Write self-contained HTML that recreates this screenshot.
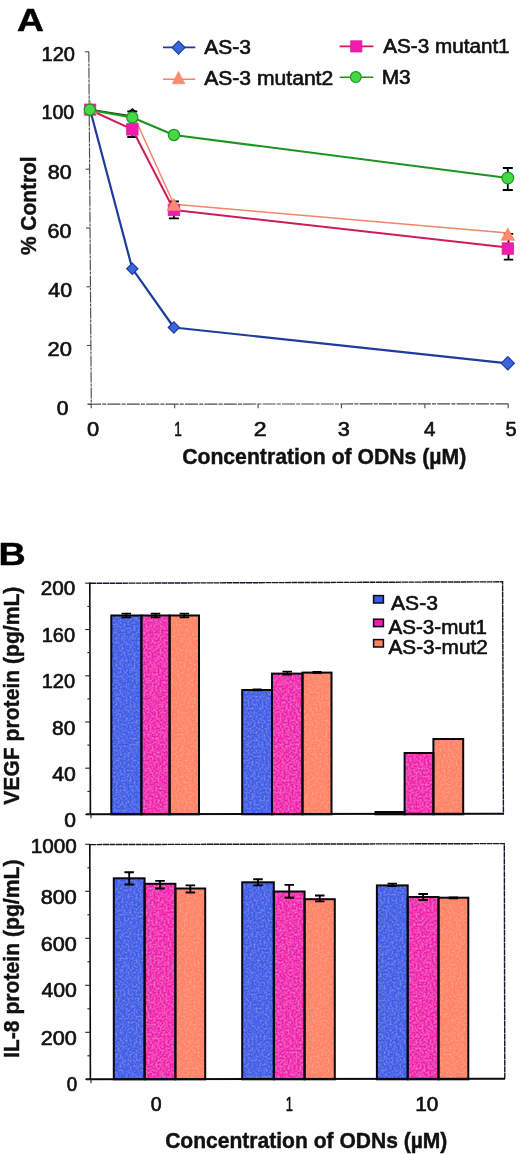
<!DOCTYPE html>
<html lang="en"><head><meta charset="utf-8"><title>Figure</title>
<style>html,body{margin:0;padding:0;background:#fff}svg{display:block;filter:blur(0.4px)}text{font-family:"Liberation Sans",Arial,Helvetica,sans-serif}</style></head><body>
<svg width="520" height="1154" viewBox="0 0 520 1154">
<rect width="520" height="1154" fill="#fff"/>
<defs><filter id="n" x="0" y="0" width="100%" height="100%"><feTurbulence type="fractalNoise" baseFrequency="0.5" numOctaves="2" seed="4" result="t"/><feColorMatrix in="t" type="matrix" values="0 0 0 0 1  0 0 0 0 1  0 0 0 0 1  0.4 0 0 0 -0.16" result="w"/><feComposite in="w" in2="SourceGraphic" operator="in" result="wi"/><feMerge><feMergeNode in="SourceGraphic"/><feMergeNode in="wi"/></feMerge></filter></defs>
<text transform="translate(17.07,31.00) scale(1.2037,1)" font-size="31" font-weight="bold" fill="#000" stroke="#000" stroke-width="0.45">A</text>
<line x1="88.8" y1="51.5" x2="91.3" y2="404.5" stroke="#4a4a4a" stroke-width="1.15" stroke-dasharray="11 1 3 1"/>
<line x1="88" y1="404.2" x2="509" y2="403.8" stroke="#4a4a4a" stroke-width="1.15" stroke-dasharray="13 1.2 4 1.2"/>
<line x1="87.3" y1="404.2" x2="91.3" y2="404.2" stroke="#4a4a4a" stroke-width="1.1"/>
<line x1="86.9" y1="345.5" x2="90.9" y2="345.5" stroke="#4a4a4a" stroke-width="1.1"/>
<line x1="86.5" y1="286.8" x2="90.5" y2="286.8" stroke="#4a4a4a" stroke-width="1.1"/>
<line x1="86.0" y1="228.0" x2="90.0" y2="228.0" stroke="#4a4a4a" stroke-width="1.1"/>
<line x1="85.6" y1="169.2" x2="89.6" y2="169.2" stroke="#4a4a4a" stroke-width="1.1"/>
<line x1="85.2" y1="110.5" x2="89.2" y2="110.5" stroke="#4a4a4a" stroke-width="1.1"/>
<line x1="84.8" y1="51.8" x2="88.8" y2="51.8" stroke="#4a4a4a" stroke-width="1.1"/>
<line x1="91.2" y1="404" x2="91.2" y2="408.3" stroke="#4a4a4a" stroke-width="1.1"/>
<line x1="174.7" y1="404" x2="174.7" y2="408.3" stroke="#4a4a4a" stroke-width="1.1"/>
<line x1="258.1" y1="404" x2="258.1" y2="408.3" stroke="#4a4a4a" stroke-width="1.1"/>
<line x1="341.5" y1="404" x2="341.5" y2="408.3" stroke="#4a4a4a" stroke-width="1.1"/>
<line x1="424.9" y1="404" x2="424.9" y2="408.3" stroke="#4a4a4a" stroke-width="1.1"/>
<line x1="508.2" y1="404" x2="508.2" y2="408.3" stroke="#4a4a4a" stroke-width="1.1"/>
<text transform="translate(41.50,61.40) scale(0.9835,1)" font-size="20.4" fill="#111" stroke="#111" stroke-width="0.65">120</text>
<text transform="translate(41.53,118.60) scale(0.9583,1)" font-size="20.4" fill="#111" stroke="#111" stroke-width="0.65">100</text>
<text transform="translate(47.73,179.20) scale(1.0518,1)" font-size="20.4" fill="#111" stroke="#111" stroke-width="0.65">80</text>
<text transform="translate(47.62,238.20) scale(1.0569,1)" font-size="20.4" fill="#111" stroke="#111" stroke-width="0.65">60</text>
<text transform="translate(48.27,297.30) scale(1.0454,1)" font-size="20.4" fill="#111" stroke="#111" stroke-width="0.65">40</text>
<text transform="translate(47.60,355.90) scale(1.0760,1)" font-size="20.4" fill="#111" stroke="#111" stroke-width="0.65">20</text>
<text transform="translate(56.86,414.80) scale(1.0315,1)" font-size="20.4" fill="#111" stroke="#111" stroke-width="0.65">0</text>
<text transform="translate(87.12,436.00) scale(1.0723,1)" font-size="20.4" fill="#111" stroke="#111" stroke-width="0.65">0</text>
<text transform="translate(174.28,436.00) scale(0.6649,1)" font-size="20.4" fill="#111" stroke="#111" stroke-width="0.65">1</text>
<text transform="translate(253.85,436.00) scale(1.1312,1)" font-size="20.4" fill="#111" stroke="#111" stroke-width="0.65">2</text>
<text transform="translate(337.63,436.00) scale(1.0630,1)" font-size="20.4" fill="#111" stroke="#111" stroke-width="0.65">3</text>
<text transform="translate(423.89,436.00) scale(1.0095,1)" font-size="20.4" fill="#111" stroke="#111" stroke-width="0.65">4</text>
<text transform="translate(505.50,436.00) scale(0.9804,1)" font-size="20.4" fill="#111" stroke="#111" stroke-width="0.65">5</text>
<text transform="translate(182.15,464.20) scale(0.9553,1)" font-size="22.2" font-weight="bold" fill="#111" stroke="#111" stroke-width="0.45">Concentration of ODNs (µM)</text>
<text transform="translate(36.20,255.12) rotate(-90) scale(0.9689,1)" font-size="21.6" font-weight="bold" fill="#111" stroke="#111" stroke-width="0.4">% Control</text>
<path d="M127.3 111.3H137.3M127.3 137.0H137.3M132.3 111.3V137.0" stroke="#000" stroke-width="1.8" fill="none"/>
<path d="M127.6 112.3L132.4 107.9L137.2 112.3Z" fill="#000"/>
<path d="M168.9 201.5H178.9M168.9 218.3H178.9M173.9 201.5V218.3" stroke="#000" stroke-width="1.8" fill="none"/>
<path d="M502.8 168.0H512.8M502.8 190.0H512.8M507.8 168.0V190.0" stroke="#000" stroke-width="1.8" fill="none"/>
<path d="M503.8 233.8H513.2M503.8 259.6H513.2M508.5 233.8V259.6" stroke="#000" stroke-width="1.8" fill="none"/>
<polyline fill="none" stroke="#1d3c9c" stroke-width="2.2" stroke-linejoin="round" points="90.2,110.0 132.3,268.7 173.9,327.5 507.8,363.3"/>
<polyline fill="none" stroke="#cf1a5c" stroke-width="2.0" stroke-linejoin="round" points="90.2,110.0 132.3,129.3 173.9,210.0 507.8,247.6"/>
<polyline fill="none" stroke="#f28468" stroke-width="1.5" stroke-linejoin="round" points="133,114 173.9,204.3 507.8,233"/>
<line x1="92" y1="109.6" x2="130" y2="115.6" stroke="#1d3d12" stroke-width="1.3"/>
<polyline fill="none" stroke="#1c9420" stroke-width="2.1" stroke-linejoin="round" points="90.2,110.0 132.3,117.5 173.9,135.0 507.8,178.0"/>
<path d="M84.6 110.0L90.2 104.4L95.8 110.0L90.2 115.6Z" fill="#3b66dc" stroke="#1d3c9c" stroke-width="1.2"/>
<path d="M126.7 268.7L132.3 263.1L137.9 268.7L132.3 274.3Z" fill="#3b66dc" stroke="#1d3c9c" stroke-width="1.2"/>
<path d="M168.3 327.5L173.9 321.9L179.5 327.5L173.9 333.1Z" fill="#3b66dc" stroke="#1d3c9c" stroke-width="1.2"/>
<path d="M501.2 363.3L507.8 356.7L514.4 363.3L507.8 369.9Z" fill="#3b66dc" stroke="#1d3c9c" stroke-width="1.2"/>
<rect x="84.6" y="104.0" width="11.2" height="11.2" fill="#f01cb0" stroke="#e0209a" stroke-width="0.8"/>
<rect x="126.6" y="123.6" width="11.5" height="11.5" fill="#f01cb0" stroke="#e0209a" stroke-width="0.8"/>
<rect x="168.2" y="204.2" width="11.5" height="11.5" fill="#f01cb0" stroke="#e0209a" stroke-width="0.8"/>
<rect x="502.1" y="242.8" width="11.5" height="11.5" fill="#f01cb0" stroke="#e0209a" stroke-width="0.8"/>
<path d="M90.2 101.3L97.0 113.5H83.4Z" fill="#ff8a70" stroke="#f28468" stroke-width="0.6"/>
<path d="M173.9 198.2L180.7 210.4H167.1Z" fill="#ff8a70" stroke="#f28468" stroke-width="0.6"/>
<path d="M507.8 228.1L514.6 240.3H501.0Z" fill="#ff8a70" stroke="#f28468" stroke-width="0.6"/>
<circle cx="89.8" cy="109.8" r="5.6" fill="#46d846" stroke="#1c9420" stroke-width="1.2"/>
<circle cx="132.3" cy="117.5" r="5.6" fill="#46d846" stroke="#1c9420" stroke-width="1.2"/>
<circle cx="173.9" cy="135.0" r="5.6" fill="#46d846" stroke="#1c9420" stroke-width="1.2"/>
<circle cx="507.8" cy="178.0" r="5.9" fill="#46d846" stroke="#1c9420" stroke-width="1.2"/>
<line x1="163" y1="47.4" x2="195.3" y2="47.4" stroke="#1d3c9c" stroke-width="1.6"/>
<path d="M172.0 47.6L178.5 41.1L185.0 47.6L178.5 54.1Z" fill="#3b66dc" stroke="#1d3c9c" stroke-width="1.2"/>
<text transform="translate(204.20,54.00) scale(1.0004,1)" font-size="21" fill="#111" stroke="#111" stroke-width="0.65">AS-3</text>
<line x1="163" y1="79.2" x2="195.3" y2="79.2" stroke="#f28468" stroke-width="1.6"/>
<path d="M178.5 71.4L184.9 83.8H172.1Z" fill="#ff8a70" stroke="#f28468" stroke-width="0.6"/>
<text transform="translate(204.20,84.80) scale(1.0050,1)" font-size="21" fill="#111" stroke="#111" stroke-width="0.65">AS-3 mutant2</text>
<line x1="339.6" y1="46.4" x2="373.4" y2="46.4" stroke="#cf1a5c" stroke-width="1.6"/>
<rect x="350.7" y="40.8" width="11.2" height="11.2" fill="#f01cb0" stroke="#e0209a" stroke-width="0.8"/>
<text transform="translate(383.30,53.20) scale(0.9838,1)" font-size="21" fill="#111" stroke="#111" stroke-width="0.65">AS-3 mutant1</text>
<line x1="339.6" y1="77.2" x2="373.4" y2="77.2" stroke="#1c9420" stroke-width="1.6"/>
<circle cx="355.8" cy="77.1" r="5.4" fill="#46d846" stroke="#1c9420" stroke-width="1.2"/>
<text transform="translate(381.63,84.00) scale(0.9936,1)" font-size="21" fill="#111" stroke="#111" stroke-width="0.65">M3</text>
<text transform="translate(-1.45,565.00) scale(1.2163,1)" font-size="31" font-weight="bold" fill="#000" stroke="#000" stroke-width="0.45">B</text>
<path d="M90 583.3L502.6 581.8L503.4 814.3" fill="none" stroke="#15152c" stroke-width="1.4" stroke-dasharray="6 0.5"/>
<rect x="111.3" y="615.5" width="30.1" height="198.8" fill="#3a5ce6" filter="url(#n)"/>
<rect x="141.4" y="615.5" width="28.2" height="198.8" fill="#f01cb0" filter="url(#n)"/>
<rect x="169.6" y="615.5" width="29.4" height="198.8" fill="#ff8262" filter="url(#n)"/>
<rect x="111.3" y="615.5" width="30.1" height="198.8" fill="none" stroke="#08080f" stroke-width="2"/>
<rect x="141.4" y="615.5" width="28.2" height="198.8" fill="none" stroke="#08080f" stroke-width="2"/>
<rect x="169.6" y="615.5" width="29.4" height="198.8" fill="none" stroke="#08080f" stroke-width="2"/>
<rect x="242.2" y="690.0" width="29.8" height="124.3" fill="#3a5ce6" filter="url(#n)"/>
<rect x="272.0" y="673.6" width="30.5" height="140.7" fill="#f01cb0" filter="url(#n)"/>
<rect x="302.5" y="672.6" width="29.0" height="141.7" fill="#ff8262" filter="url(#n)"/>
<rect x="242.2" y="690.0" width="29.8" height="124.3" fill="none" stroke="#08080f" stroke-width="2"/>
<rect x="272.0" y="673.6" width="30.5" height="140.7" fill="none" stroke="#08080f" stroke-width="2"/>
<rect x="302.5" y="672.6" width="29.0" height="141.7" fill="none" stroke="#08080f" stroke-width="2"/>
<rect x="375.5" y="812.0" width="29.1" height="2.3" fill="#3a5ce6" filter="url(#n)"/>
<rect x="404.6" y="753.0" width="28.8" height="61.3" fill="#f01cb0" filter="url(#n)"/>
<rect x="433.4" y="739.0" width="29.8" height="75.3" fill="#ff8262" filter="url(#n)"/>
<rect x="375.5" y="812.0" width="29.1" height="2.3" fill="none" stroke="#08080f" stroke-width="2"/>
<rect x="404.6" y="753.0" width="28.8" height="61.3" fill="none" stroke="#08080f" stroke-width="2"/>
<rect x="433.4" y="739.0" width="29.8" height="75.3" fill="none" stroke="#08080f" stroke-width="2"/>
<path d="M121.6 613.6H131.1M121.6 617.4H131.1M126.3 613.6V617.4" stroke="#000" stroke-width="1.75" fill="none"/>
<path d="M150.8 613.6H160.2M150.8 617.4H160.2M155.5 613.6V617.4" stroke="#000" stroke-width="1.75" fill="none"/>
<path d="M179.6 613.6H189.1M179.6 617.4H189.1M184.3 613.6V617.4" stroke="#000" stroke-width="1.75" fill="none"/>
<path d="M282.5 671.6H292.0M282.5 674.6H292.0M287.2 671.6V674.6" stroke="#000" stroke-width="1.75" fill="none"/>
<path d="M252.6 689.2H261.6M252.6 690.4H261.6M257.1 689.2V690.4" stroke="#000" stroke-width="1.5499999999999998" fill="none"/>
<path d="M312.5 671.8H321.5M312.5 673.0H321.5M317.0 671.8V673.0" stroke="#000" stroke-width="1.5499999999999998" fill="none"/>
<line x1="89.8" y1="582.5" x2="90.4" y2="815.0999999999999" stroke="#0a0a14" stroke-width="1.6"/>
<line x1="86" y1="814.3" x2="504" y2="813.6999999999999" stroke="#0a0a14" stroke-width="2"/>
<line x1="85.2" y1="814.5" x2="90" y2="814.5" stroke="#222" stroke-width="1.1"/>
<line x1="87.4" y1="791.4" x2="90" y2="791.4" stroke="#222" stroke-width="1.1"/>
<line x1="85.2" y1="768.2" x2="90" y2="768.2" stroke="#222" stroke-width="1.1"/>
<line x1="87.4" y1="745.1" x2="90" y2="745.1" stroke="#222" stroke-width="1.1"/>
<line x1="85.2" y1="722.0" x2="90" y2="722.0" stroke="#222" stroke-width="1.1"/>
<line x1="87.4" y1="698.9" x2="90" y2="698.9" stroke="#222" stroke-width="1.1"/>
<line x1="85.2" y1="675.8" x2="90" y2="675.8" stroke="#222" stroke-width="1.1"/>
<line x1="87.4" y1="652.6" x2="90" y2="652.6" stroke="#222" stroke-width="1.1"/>
<line x1="85.2" y1="629.5" x2="90" y2="629.5" stroke="#222" stroke-width="1.1"/>
<line x1="87.4" y1="606.4" x2="90" y2="606.4" stroke="#222" stroke-width="1.1"/>
<line x1="85.2" y1="583.2" x2="90" y2="583.2" stroke="#222" stroke-width="1.1"/>
<line x1="91" y1="814.3" x2="91" y2="818.3" stroke="#222" stroke-width="1.1"/>
<text transform="translate(40.67,595.20) scale(1.0145,1)" font-size="20.4" fill="#111" stroke="#111" stroke-width="0.65">200</text>
<text transform="translate(41.70,641.60) scale(0.9835,1)" font-size="20.4" fill="#111" stroke="#111" stroke-width="0.65">160</text>
<text transform="translate(41.70,688.20) scale(0.9835,1)" font-size="20.4" fill="#111" stroke="#111" stroke-width="0.65">120</text>
<text transform="translate(52.06,734.60) scale(1.0280,1)" font-size="20.4" fill="#111" stroke="#111" stroke-width="0.65">80</text>
<text transform="translate(52.18,780.80) scale(1.0408,1)" font-size="20.4" fill="#111" stroke="#111" stroke-width="0.65">40</text>
<text transform="translate(64.36,826.60) scale(1.0315,1)" font-size="20.4" fill="#111" stroke="#111" stroke-width="0.65">0</text>
<text transform="translate(18.80,804.71) rotate(-90) scale(0.9509,1)" font-size="22.2" font-weight="bold" fill="#111" stroke="#111" stroke-width="0.4">VEGF protein (pg/mL)</text>
<rect x="373.6" y="595.6" width="9.8" height="7.4" fill="#3a5ce6" stroke="#0a0a14" stroke-width="1.5"/>
<rect x="373.6" y="619.2" width="9.8" height="7.4" fill="#f01cb0" stroke="#0a0a14" stroke-width="1.5"/>
<rect x="373.6" y="639.6" width="9.8" height="7.4" fill="#ff8262" stroke="#0a0a14" stroke-width="1.5"/>
<text transform="translate(391.00,610.40) scale(1.0048,1)" font-size="21" fill="#111" stroke="#111" stroke-width="0.65">AS-3</text>
<text transform="translate(388.50,633.60) scale(0.9826,1)" font-size="21" fill="#111" stroke="#111" stroke-width="0.65">AS-3-mut1</text>
<text transform="translate(388.50,653.60) scale(0.9896,1)" font-size="21" fill="#111" stroke="#111" stroke-width="0.65">AS-3-mut2</text>
<path d="M90 844.6L504.3 843.6L504.8 1079.3" fill="none" stroke="#15152c" stroke-width="1.4" stroke-dasharray="6 0.5"/>
<rect x="113.8" y="878.3" width="30.8" height="201.0" fill="#3a5ce6" filter="url(#n)"/>
<rect x="144.6" y="883.8" width="30.8" height="195.5" fill="#f01cb0" filter="url(#n)"/>
<rect x="175.4" y="888.5" width="29.8" height="190.8" fill="#ff8262" filter="url(#n)"/>
<rect x="113.8" y="878.3" width="30.8" height="201.0" fill="none" stroke="#08080f" stroke-width="2"/>
<rect x="144.6" y="883.8" width="30.8" height="195.5" fill="none" stroke="#08080f" stroke-width="2"/>
<rect x="175.4" y="888.5" width="29.8" height="190.8" fill="none" stroke="#08080f" stroke-width="2"/>
<rect x="242.2" y="882.3" width="31.6" height="197.0" fill="#3a5ce6" filter="url(#n)"/>
<rect x="273.8" y="891.5" width="30.8" height="187.8" fill="#f01cb0" filter="url(#n)"/>
<rect x="304.6" y="899.2" width="30.2" height="180.1" fill="#ff8262" filter="url(#n)"/>
<rect x="242.2" y="882.3" width="31.6" height="197.0" fill="none" stroke="#08080f" stroke-width="2"/>
<rect x="273.8" y="891.5" width="30.8" height="187.8" fill="none" stroke="#08080f" stroke-width="2"/>
<rect x="304.6" y="899.2" width="30.2" height="180.1" fill="none" stroke="#08080f" stroke-width="2"/>
<rect x="376.9" y="885.4" width="30.8" height="193.9" fill="#3a5ce6" filter="url(#n)"/>
<rect x="407.7" y="897.0" width="30.8" height="182.3" fill="#f01cb0" filter="url(#n)"/>
<rect x="438.5" y="897.7" width="29.8" height="181.6" fill="#ff8262" filter="url(#n)"/>
<rect x="376.9" y="885.4" width="30.8" height="193.9" fill="none" stroke="#08080f" stroke-width="2"/>
<rect x="407.7" y="897.0" width="30.8" height="182.3" fill="none" stroke="#08080f" stroke-width="2"/>
<rect x="438.5" y="897.7" width="29.8" height="181.6" fill="none" stroke="#08080f" stroke-width="2"/>
<path d="M124.4 872.2H133.9M124.4 884.5H133.9M129.2 872.2V884.5" stroke="#000" stroke-width="1.85" fill="none"/>
<path d="M155.2 880.8H164.8M155.2 888.5H164.8M160.0 880.8V888.5" stroke="#000" stroke-width="1.85" fill="none"/>
<path d="M185.6 885.4H195.1M185.6 892.5H195.1M190.3 885.4V892.5" stroke="#000" stroke-width="1.85" fill="none"/>
<path d="M253.2 879.2H262.8M253.2 885.4H262.8M258.0 879.2V885.4" stroke="#000" stroke-width="1.85" fill="none"/>
<path d="M284.5 884.8H294.0M284.5 897.7H294.0M289.2 884.8V897.7" stroke="#000" stroke-width="1.85" fill="none"/>
<path d="M315.0 895.5H324.5M315.0 901.4H324.5M319.7 895.5V901.4" stroke="#000" stroke-width="1.85" fill="none"/>
<path d="M387.5 883.6H397.0M387.5 886.2H397.0M392.3 883.6V886.2" stroke="#000" stroke-width="1.75" fill="none"/>
<path d="M418.4 894.0H427.9M418.4 900.0H427.9M423.1 894.0V900.0" stroke="#000" stroke-width="1.85" fill="none"/>
<path d="M448.6 897.2H458.1M448.6 898.4H458.1M453.4 897.2V898.4" stroke="#000" stroke-width="1.5499999999999998" fill="none"/>
<line x1="89.8" y1="844" x2="90.4" y2="1080.1" stroke="#0a0a14" stroke-width="1.6"/>
<line x1="86" y1="1079.3" x2="505" y2="1078.7" stroke="#0a0a14" stroke-width="2"/>
<line x1="85.2" y1="1079.3" x2="90" y2="1079.3" stroke="#222" stroke-width="1.1"/>
<line x1="87.4" y1="1055.8" x2="90" y2="1055.8" stroke="#222" stroke-width="1.1"/>
<line x1="85.2" y1="1032.3" x2="90" y2="1032.3" stroke="#222" stroke-width="1.1"/>
<line x1="87.4" y1="1008.8" x2="90" y2="1008.8" stroke="#222" stroke-width="1.1"/>
<line x1="85.2" y1="985.3" x2="90" y2="985.3" stroke="#222" stroke-width="1.1"/>
<line x1="87.4" y1="961.8" x2="90" y2="961.8" stroke="#222" stroke-width="1.1"/>
<line x1="85.2" y1="938.3" x2="90" y2="938.3" stroke="#222" stroke-width="1.1"/>
<line x1="87.4" y1="914.8" x2="90" y2="914.8" stroke="#222" stroke-width="1.1"/>
<line x1="85.2" y1="891.3" x2="90" y2="891.3" stroke="#222" stroke-width="1.1"/>
<line x1="87.4" y1="867.8" x2="90" y2="867.8" stroke="#222" stroke-width="1.1"/>
<line x1="85.2" y1="844.3" x2="90" y2="844.3" stroke="#222" stroke-width="1.1"/>
<line x1="91" y1="1079.3" x2="91" y2="1083.3" stroke="#222" stroke-width="1.1"/>
<text transform="translate(30.65,853.40) scale(1.0152,1)" font-size="20.4" fill="#111" stroke="#111" stroke-width="0.65">1000</text>
<text transform="translate(40.83,903.60) scale(1.0577,1)" font-size="20.4" fill="#111" stroke="#111" stroke-width="0.65">800</text>
<text transform="translate(40.72,951.00) scale(1.0611,1)" font-size="20.4" fill="#111" stroke="#111" stroke-width="0.65">600</text>
<text transform="translate(41.38,997.20) scale(1.0413,1)" font-size="20.4" fill="#111" stroke="#111" stroke-width="0.65">400</text>
<text transform="translate(40.72,1045.00) scale(1.0611,1)" font-size="20.4" fill="#111" stroke="#111" stroke-width="0.65">200</text>
<text transform="translate(66.85,1091.20) scale(0.9191,1)" font-size="20.4" fill="#111" stroke="#111" stroke-width="0.65">0</text>
<text transform="translate(19.40,1058.08) rotate(-90) scale(0.9534,1)" font-size="22.2" font-weight="bold" fill="#111" stroke="#111" stroke-width="0.4">IL-8 protein (pg/mL)</text>
<text transform="translate(150.82,1111.40) scale(0.9600,1)" font-size="20.4" fill="#111" stroke="#111" stroke-width="0.65">0</text>
<text transform="translate(285.83,1111.40) scale(0.6311,1)" font-size="20.4" fill="#111" stroke="#111" stroke-width="0.65">1</text>
<text transform="translate(415.24,1111.40) scale(1.0196,1)" font-size="20.4" fill="#111" stroke="#111" stroke-width="0.65">10</text>
<text transform="translate(165.16,1147.90) scale(0.9486,1)" font-size="22.2" font-weight="bold" fill="#111" stroke="#111" stroke-width="0.45">Concentration of ODNs (µM)</text>
</svg></body></html>
